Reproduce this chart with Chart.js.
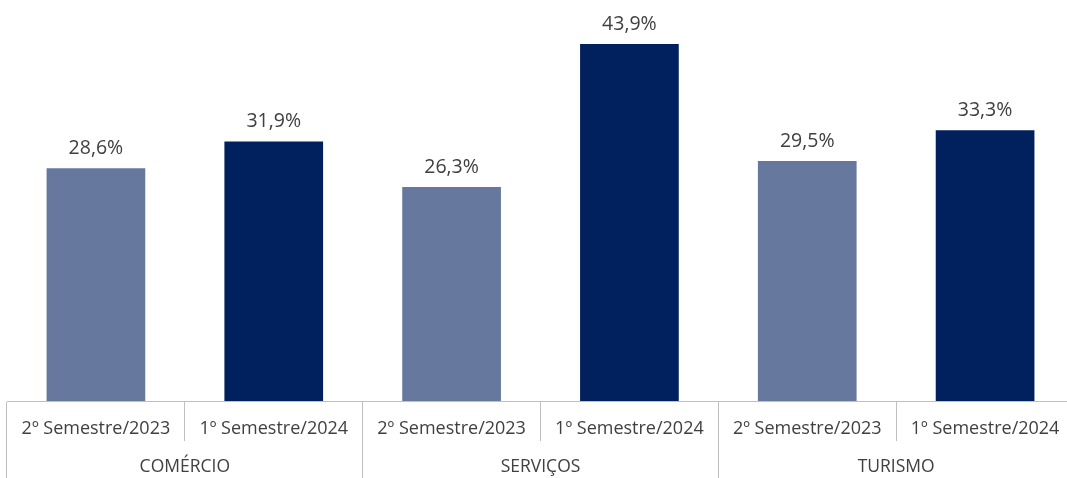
<!DOCTYPE html>
<html>
<head>
<meta charset="utf-8">
<script src="https://cdn.jsdelivr.net/npm/chart.js@4.4.1/dist/chart.umd.min.js"></script>
<style>
  html, body { margin: 0; padding: 0; background: #fff; overflow: hidden; }
  #wrap { position: relative; width: 1074px; height: 478px; }
</style>
</head>
<body>
<div id="wrap"><canvas id="chart"></canvas></div>
<script>
const periods = ['2º Semestre/2023', '1º Semestre/2024', '2º Semestre/2023', '1º Semestre/2024', '2º Semestre/2023', '1º Semestre/2024'];
const sectors = ['COMÉRCIO', 'SERVIÇOS', 'TURISMO'];
const values = [28.6, 31.9, 26.3, 43.9, 29.5, 33.3];
const barColors = ['#67789F', '#00205E', '#67789F', '#00205E', '#67789F', '#00205E'];

const textColor = '#404040';
const lineColor = '#BFBFBF';
const fontFamily = '"Open Sans", "Liberation Sans", sans-serif';

const valueLabels = {
    id: 'valueLabels',
    afterDatasetsDraw(chart) {
        const ctx = chart.ctx;
        const meta = chart.getDatasetMeta(0);
        ctx.save();
        ctx.font = '19.5px ' + fontFamily;
        ctx.fillStyle = textColor;
        ctx.textAlign = 'center';
        ctx.textBaseline = 'bottom';
        meta.data.forEach((bar, i) => {
            const txt = values[i].toFixed(1).replace('.', ',') + '%';
            ctx.fillText(txt, bar.x, bar.y - 10);
        });
        ctx.restore();
    }
};

new Chart(document.getElementById('chart'), {
    type: 'bar',
    data: {
        labels: periods,
        datasets: [{
            data: values,
            backgroundColor: barColors,
            barPercentage: 0.555,
            categoryPercentage: 1
        }]
    },
    options: {
        responsive: true,
        maintainAspectRatio: false,
        animation: false,
        layout: { padding: { left: 7, right: 0, top: 0, bottom: 0 } },
        plugins: {
            legend: { display: false },
            tooltip: { enabled: false }
        },
        scales: {
            y: {
                display: false,
                min: 0,
                max: 49.3
            },
            x: {
                weight: 0,
                offset: true,
                grid: {
                    offset: true,
                    drawOnChartArea: false,
                    tickLength: 40,
                    color: lineColor
                },
                border: { display: true, color: lineColor },
                ticks: {
                    padding: -23,
                    color: textColor,
                    font: { family: fontFamily, size: 18 },
                    maxRotation: 0,
                    autoSkip: false
                },
                afterFit(scale) { scale.height = 40; }
            },
            group: {
                type: 'category',
                position: 'bottom',
                weight: 1,
                labels: sectors,
                offset: true,
                grid: {
                    offset: true,
                    drawOnChartArea: false,
                    tickLength: 40,
                    color: lineColor
                },
                border: { display: false },
                ticks: {
                    padding: -24,
                    color: textColor,
                    font: { family: fontFamily, size: 17.5 },
                    maxRotation: 0,
                    autoSkip: false
                },
                afterFit(scale) { scale.height = 37; }
            }
        }
    },
    plugins: [valueLabels]
});
</script>
</body>
</html>
